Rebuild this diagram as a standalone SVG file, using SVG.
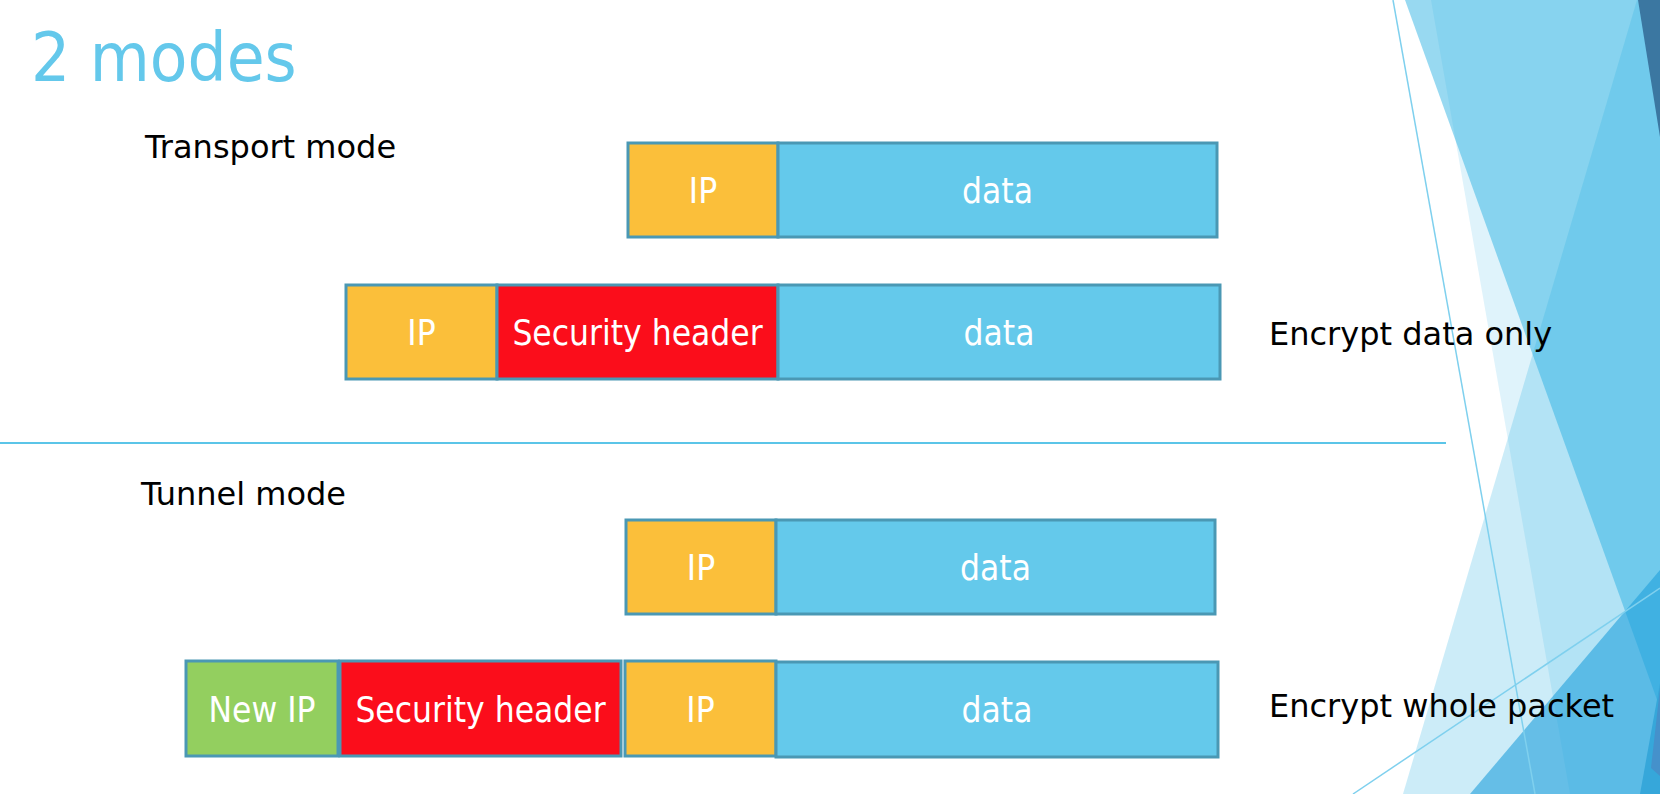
<svg xmlns="http://www.w3.org/2000/svg" width="1660" height="794" viewBox="0 0 1660 794">
<style>
.box{stroke:#4A98B4;stroke-width:3}
.ip{fill:#FBBF3A}
.data{fill:#64C9EB}
.sec{fill:#FB0D1B}
.nip{fill:#93CF5F}
.bt{font-family:"DejaVu Sans Condensed","DejaVu Sans",sans-serif;font-stretch:condensed;font-size:35px;fill:#FFFFFF;text-anchor:middle}
.lbl{font-family:"DejaVu Sans",sans-serif;font-size:32px;fill:#000000}
.thin{stroke:#7FD0EE;stroke-width:1.5;fill:none}
</style>
<rect x="0" y="0" width="1660" height="794" fill="#FFFFFF"/>
<g id="decoration">
<polygon points="1431,0 1660,0 1660,794 1570,794" fill="#28AFE1" fill-opacity="0.15"/>
<polygon points="1405,0 1660,0 1660,708" fill="#28AFE1" fill-opacity="0.48"/>
<polygon points="1637,0 1660,0 1660,794 1403,794" fill="#28AFE1" fill-opacity="0.24"/>
<polygon points="1660,570 1660,794 1470,794" fill="#1FA0DC" fill-opacity="0.6"/>
<polygon points="1638,0 1660,0 1660,137" fill="#3B77A1"/>
<polygon points="1660,683 1660,794 1640,794" fill="#36A7DA"/>
<polygon points="1660,688 1660,776 1651,768" fill="#4591CB"/>
<line class="thin" x1="1393" y1="0" x2="1535" y2="794"/>
<line class="thin" x1="1353" y1="794" x2="1660" y2="588" stroke="#8DD5F0"/>
</g>
<g id="title">
<text x="31" y="81" font-family="'DejaVu Sans Condensed','DejaVu Sans',sans-serif" font-stretch="condensed" font-size="68.5" fill="#64C8EB">2 modes</text>
</g>
<g id="separator">
<line x1="0" y1="443" x2="1446" y2="443" stroke="#5BC5E8" stroke-width="2"/>
</g>
<g id="labels">
<text class="lbl" x="145" y="158">Transport mode</text>
<text class="lbl" x="141" y="505">Tunnel mode</text>
<text class="lbl" x="1269" y="345" font-size="32.4">Encrypt data only</text>
<text class="lbl" x="1269" y="717" font-size="32.6">Encrypt whole packet</text>
</g>
<g id="transport-original">
<rect class="box ip" x="628" y="143" width="150" height="94"/>
<rect class="box data" x="778" y="143" width="439" height="94"/>
<text class="bt" x="703" y="202.5">IP</text>
<text class="bt" x="997.5" y="202.5">data</text>
</g>
<g id="transport-secured">
<rect class="box ip" x="346" y="285" width="151" height="94"/>
<rect class="box sec" x="497" y="285" width="281" height="94"/>
<rect class="box data" x="778" y="285" width="442" height="94"/>
<text class="bt" x="421.5" y="344.5">IP</text>
<text class="bt" x="637.5" y="344.5">Security header</text>
<text class="bt" x="999" y="344.5">data</text>
</g>
<g id="tunnel-original">
<rect class="box ip" x="626" y="520" width="150" height="94"/>
<rect class="box data" x="776" y="520" width="439" height="94"/>
<text class="bt" x="701" y="579.5">IP</text>
<text class="bt" x="995.5" y="579.5">data</text>
</g>
<g id="tunnel-secured">
<rect class="box nip" x="186" y="661" width="152" height="95"/>
<rect class="box sec" x="340" y="661" width="281" height="95"/>
<rect class="box ip" x="625" y="661" width="151" height="95"/>
<rect class="box data" x="776" y="662" width="442" height="95"/>
<text class="bt" x="262" y="721.5">New IP</text>
<text class="bt" x="480.5" y="721.5">Security header</text>
<text class="bt" x="700.5" y="721.5">IP</text>
<text class="bt" x="997" y="721.5">data</text>
</g>
</svg>
